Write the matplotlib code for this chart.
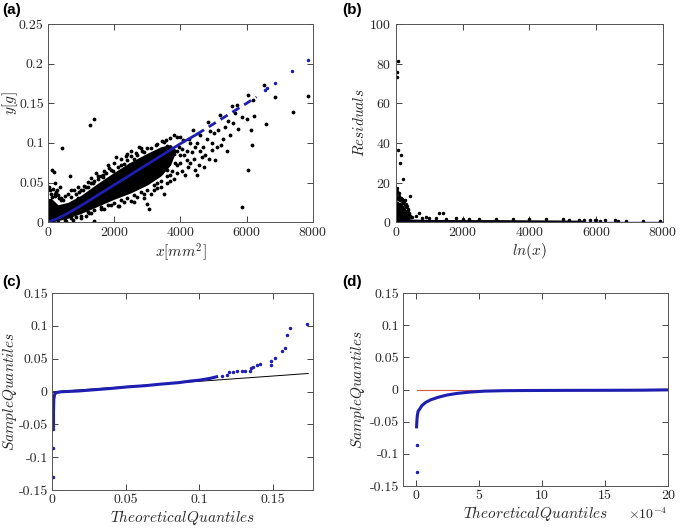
import numpy as np
import matplotlib
matplotlib.use('Agg')
import matplotlib.pyplot as plt

# valores
# (a) massa vs área
a_core_x = [0, 100, 300, 600, 1000, 1500, 2000, 2500, 3000, 3400, 3700, 3850]
a_core_hi = [0.030, 0.030, 0.022, 0.025, 0.034, 0.049, 0.063, 0.076, 0.087, 0.095, 0.098, 0.092]
a_core_lo = [0.000, 0.000, 0.002, 0.005, 0.011, 0.020, 0.029, 0.037, 0.047, 0.058, 0.072, 0.088]

a_pts_x = [20, 60, 100, 150, 130, 181, 250, 300, 350, 414, 50, 120, 200, 280, 220, 320, 400, 450, 500,
           665, 1270, 1400, 600, 800, 900, 1100, 1200, 1300, 1400, 1350, 700, 1000, 1150, 1450, 1500, 900, 1050, 1250, 750, 550,
           1700, 1800, 2000, 2200, 2400, 2500, 2800, 2600, 2900, 2980, 3050, 2700, 1900, 2300, 2050, 2450, 2750, 1600, 2150, 2900, 1650, 1850, 2350, 2650,
           3800, 3700, 3900, 3500, 3300, 3600, 3600, 3800, 3400, 3200, 3900, 3700, 3500, 3100, 3300, 3500, 3700, 3900, 3200, 3400, 3600, 3800, 3950, 3100, 3300,
           3990, 4090, 4390, 4240, 4440, 4640, 4690, 4840, 4940, 5040, 5150, 5200, 5240, 5350, 5500, 5550, 5700, 5750, 5850, 6000, 6050, 6130, 6150, 6200, 6230, 6540, 6600, 6860, 6030, 7390, 7860, 5870,
           4100, 4200, 4300, 4500, 4600, 4400, 4700, 4800, 4900, 4300, 4150, 4500, 4000, 4250, 4600, 4950, 5100, 5300, 5400, 4750, 4050, 4350, 4550, 4050, 4200, 4450, 4850, 5000, 5450, 5600, 5650,
           200, 400, 700, 850, 1000, 1150, 1300, 1500, 1600, 1750, 1900, 2100, 2300, 2500, 2600, 2700, 2850, 3000, 3100, 3250, 3450, 3550, 2200, 2400, 1400, 1200, 950, 1650, 1950,
           300, 500, 700, 850, 1000, 1200, 1400, 1600, 1800, 2000, 2200, 2400, 2600, 2800, 3000, 3200, 3400, 3600, 3750, 1300, 1700, 2100, 2500, 2900, 3300, 3700, 3900, 4000, 3850]
a_pts_y = [0.045, 0.040, 0.035, 0.042, 0.066, 0.063, 0.038, 0.034, 0.045, 0.093, 0.025, 0.032, 0.036, 0.040, 0.050, 0.030, 0.031, 0.028, 0.033,
           0.058, 0.122, 0.130, 0.036, 0.041, 0.031, 0.046, 0.051, 0.056, 0.002, 0.049, 0.040, 0.005, 0.008, 0.062, 0.058, 0.044, 0.040, 0.012, 0.003, 0.001,
           0.065, 0.072, 0.075, 0.080, 0.086, 0.090, 0.093, 0.025, 0.030, 0.023, 0.017, 0.032, 0.022, 0.026, 0.082, 0.072, 0.095, 0.016, 0.021, 0.088, 0.060, 0.068, 0.083, 0.087,
           0.110, 0.106, 0.108, 0.101, 0.098, 0.096, 0.050, 0.055, 0.045, 0.040, 0.072, 0.060, 0.036, 0.060, 0.070, 0.075, 0.080, 0.090, 0.085, 0.062, 0.066, 0.086, 0.095, 0.035, 0.050,
           0.108, 0.104, 0.116, 0.070, 0.066, 0.082, 0.095, 0.127, 0.091, 0.078, 0.116, 0.135, 0.097, 0.120, 0.110, 0.146, 0.148, 0.118, 0.133, 0.130, 0.160, 0.116, 0.097, 0.154, 0.134, 0.173, 0.124, 0.158, 0.066, 0.139, 0.159, 0.019,
           0.085, 0.090, 0.075, 0.100, 0.110, 0.080, 0.070, 0.105, 0.115, 0.100, 0.060, 0.060, 0.075, 0.105, 0.090, 0.100, 0.095, 0.105, 0.090, 0.085, 0.092, 0.088, 0.072, 0.065, 0.078, 0.095, 0.080, 0.112, 0.128, 0.125, 0.138,
           0.033, 0.028, 0.032, 0.036, 0.040, 0.044, 0.049, 0.055, 0.058, 0.062, 0.066, 0.070, 0.074, 0.083, 0.080, 0.085, 0.090, 0.094, 0.093, 0.097, 0.103, 0.104, 0.072, 0.078, 0.052, 0.045, 0.038, 0.057, 0.064,
           0.000, 0.003, 0.005, 0.007, 0.008, 0.013, 0.015, 0.019, 0.022, 0.024, 0.028, 0.030, 0.034, 0.038, 0.040, 0.047, 0.052, 0.058, 0.064, 0.011, 0.017, 0.021, 0.027, 0.035, 0.043, 0.052, 0.062, 0.085, 0.075]

fit_x = [0, 250, 500, 750, 1000, 1500, 2000, 2500, 3000, 3500, 4000, 4500]
fit_y = [0, 0.004, 0.009, 0.015, 0.021, 0.034, 0.047, 0.060, 0.073, 0.086, 0.099, 0.111]
fit_dash_x = [4500, 5000, 5500, 6000, 6300]
fit_dash_y = [0.111, 0.124, 0.137, 0.150, 0.158]
fit_tail_x = [6560, 6620, 6860, 7380, 7860]
fit_tail_y = [0.167, 0.169, 0.176, 0.191, 0.205]

# (b) resíduos
b_core_x = [0, 40, 100, 160, 220, 280, 340, 400, 430]
b_core_hi = [9, 11, 10, 9.5, 8.5, 7, 5, 3, 1.5]
b_band_x = [400, 1000, 2000, 3000, 4000, 5000, 5600]
b_band_hi = [1.6, 1.4, 1.3, 1.3, 1.2, 1.1, 1.0]
b_pts_x = [70, 40, 40, 70, 150, 140, 220, 440, 690, 1300, 1420, 30, 50, 20, 100, 60, 150, 200, 250, 300, 350, 380, 410, 10, 120, 180, 90, 270, 320,
           500, 800, 1000, 1500, 2000, 2500, 3000, 3500, 4000, 4500, 5000, 600, 900, 5650, 5800, 5950, 6100, 6250, 6550, 6650, 6900, 7400, 7900, 5500, 6000, 5200, 1200, 1800, 2200,
           20, 70, 130, 230, 290, 360, 400, 430, 460, 330]
b_pts_y = [81.5, 75.9, 73.1, 36.4, 33.8, 30, 22, 13.1, 4.7, 4.7, 4.7, 17, 15.5, 14, 13, 12.5, 12, 11.5, 10.5, 9, 8, 6, 4.5, 16, 11, 10.5, 14.5, 11, 7.5,
           2.5, 2, 2.2, 1.8, 1.7, 1.6, 1.7, 1.5, 1.6, 1.4, 1.5, 3, 2.8, 1.1, 0.9, 1.0, 0.8, 0.9, 1.0, 0.6, 0.8, 0.5, 0.7, 1.2, 1.2, 1.3, 2.0, 1.9, 1.6,
           12, 11.5, 9, 9.5, 8.5, 6.5, 4, 3, 2.5, 5.5]
b_fit_x = [0, 8000]
b_fit_y = [0.2, 0.2]

# (c) gráfico Q-Q
c_line_x = [0, 0.1739]
c_line_y = [-0.0005, 0.0275]
c_dense_x = [0.001, 0.001, 0.0012, 0.0018, 0.003, 0.0066, 0.0178, 0.0292, 0.0405, 0.0518, 0.0631, 0.0744, 0.0857, 0.0940, 0.1004, 0.1072, 0.1117]
c_dense_y = [-0.048, -0.030, -0.012, -0.004, -0.0015, -0.0003, 0.0008, 0.0028, 0.0048, 0.0072, 0.0089, 0.0114, 0.0135, 0.0160, 0.0175, 0.020, 0.0225]
c_sparse_x = [0.001, 0.001, 0.001, 0.001, 0.1151, 0.1185, 0.1203, 0.1226, 0.1253, 0.1287, 0.1309, 0.1343, 0.1348, 0.1366, 0.1389, 0.1411,
              0.1483, 0.1483, 0.1513, 0.1558, 0.158, 0.1592, 0.1615, 0.1732]
c_sparse_y = [-0.1297, -0.0865, -0.0564, -0.052, 0.0241, 0.0251, 0.0292, 0.0302, 0.0312, 0.0312, 0.0312, 0.0312, 0.0353, 0.0378, 0.0404, 0.0414,
              0.0404, 0.0464, 0.0515, 0.0617, 0.0658, 0.086, 0.0972, 0.1023]

# (d) gráfico Q-Q ampliado (x em unidades de 1e-4)
d_line_x = [0.08, 20]
d_line_y = [-0.001, -0.001]
d_dense_x = [0.08, 0.1, 0.12, 0.15, 0.2, 0.3, 0.5, 0.8, 1.2, 1.8, 2.5, 3.3, 4.3, 5.5, 7, 9, 12, 15, 18, 20]
d_dense_y = [-0.058, -0.050, -0.044, -0.039, -0.034, -0.031, -0.025, -0.020, -0.016, -0.012, -0.0085, -0.006, -0.004, -0.0025, -0.0018,
             -0.0015, -0.0013, -0.0012, -0.001, -0.0005]
d_sparse_x = [0.08, 0.08]
d_sparse_y = [-0.129, -0.086]

xticks_ab = [0, 2000, 4000, 6000, 8000]
qq_yticks = [-0.15, -0.1, -0.05, 0, 0.05, 0.1, 0.15]
qq_ylabels = ['-0.15', '-0.1', '-0.05', '0', '0.05', '0.1', '0.15']

plt.rcParams['font.family'] = 'cmr10'
plt.rcParams['mathtext.fontset'] = 'cm'
plt.rcParams['axes.unicode_minus'] = False
plt.rcParams['axes.formatter.use_mathtext'] = True

escuro = '#262626'
azul = '#1e1eb0'

fig = plt.figure(figsize=(6.8, 5.29), dpi=100)
ax_a = fig.add_axes([0.0706, 0.580, 0.3894, 0.3746])
ax_b = fig.add_axes([0.582, 0.580, 0.393, 0.3746])
ax_c = fig.add_axes([0.0765, 0.0737, 0.3835, 0.3723])
ax_d = fig.add_axes([0.5926, 0.0813, 0.3894, 0.3647])

for ax in [ax_a, ax_b, ax_c, ax_d]:
    ax.tick_params(direction='in', top=True, right=True, length=4, width=0.6,
                   labelsize=10, colors=escuro, pad=3)
    for s in ax.spines.values():
        s.set_color('#555555')
        s.set_linewidth(0.7)

# (a)
ax_a.fill_between(a_core_x, a_core_lo, a_core_hi, color='k', lw=0)
ax_a.plot(a_pts_x, a_pts_y, '.', color='k', ms=3.5)
ax_a.plot(fit_x, fit_y, '-', color=azul, lw=2)
ax_a.plot(fit_dash_x, fit_dash_y, '--', color=azul, lw=2, dashes=(3, 2))
ax_a.plot(fit_tail_x, fit_tail_y, '.', color=azul, ms=3)
ax_a.set_xlim(0, 8000)
ax_a.set_ylim(0, 0.25)
ax_a.set_xticks(xticks_ab)
ax_a.set_yticks([0, 0.05, 0.1, 0.15, 0.2, 0.25])
ax_a.set_yticklabels(['0', '0.05', '0.1', '0.15', '0.2', '0.25'])
ax_a.set_xlabel(r'$x[mm^2]$', fontsize=11, color=escuro, labelpad=1)
ax_a.set_ylabel(r'$y[g]$', fontsize=11, color=escuro)
ax_a.yaxis.set_label_coords(-0.105, 0.6)

# (b)
ax_b.fill_between(b_core_x, 0, b_core_hi, color='k', lw=0)
ax_b.fill_between(b_band_x, 0, b_band_hi, color='k', lw=0)
ax_b.plot(b_pts_x, b_pts_y, '.', color='k', ms=3)
ax_b.plot(b_fit_x, b_fit_y, '-', color=azul, lw=1)
ax_b.set_xlim(0, 8000)
ax_b.set_ylim(0, 100)
ax_b.set_xticks(xticks_ab)
ax_b.set_yticks([0, 20, 40, 60, 80, 100])
ax_b.set_xlabel(r'$ln(x)$', fontsize=11, color=escuro, labelpad=1)
ax_b.set_ylabel(r'$Residuals$', fontsize=11, color=escuro)
ax_b.yaxis.set_label_coords(-0.109, 0.5)

# (c)
ax_c.plot(c_line_x, c_line_y, '-', color='k', lw=0.7)
ax_c.plot(c_dense_x, c_dense_y, '-', color=azul, lw=2.2)
ax_c.plot(c_sparse_x, c_sparse_y, '.', color=azul, ms=3)
ax_c.set_xlim(0, 0.177)
ax_c.set_ylim(-0.15, 0.15)
ax_c.set_xticks([0, 0.05, 0.1, 0.15])
ax_c.set_xticklabels(['0', '0.05', '0.1', '0.15'])
ax_c.set_yticks(qq_yticks)
ax_c.set_yticklabels(qq_ylabels)
ax_c.set_xlabel(r'$TheoreticalQuantiles$', fontsize=11, color=escuro, labelpad=1)
ax_c.set_ylabel(r'$SampleQuantiles$', fontsize=11, color=escuro)
ax_c.yaxis.set_label_coords(-0.128, 0.5)

# (d)
escala = 1e-4
ax_d.plot(np.array(d_line_x) * escala, d_line_y, '-', color='#d95a3c', lw=0.8)
ax_d.plot(np.array(d_dense_x) * escala, d_dense_y, '-', color=azul, lw=2.2)
ax_d.plot(np.array(d_sparse_x) * escala, d_sparse_y, '.', color=azul, ms=3)
ax_d.set_xlim(-1e-4, 20e-4)
ax_d.set_ylim(-0.15, 0.15)
ax_d.set_xticks([0, 5e-4, 10e-4, 15e-4, 20e-4])
ax_d.set_xticklabels(['0', '5', '10', '15', '20'])
ax_d.set_yticks(qq_yticks)
ax_d.set_yticklabels(qq_ylabels)
ax_d.set_xlabel(r'$TheoreticalQuantiles$', fontsize=11, color=escuro, labelpad=1)
ax_d.set_ylabel(r'$SampleQuantiles$', fontsize=11, color=escuro)
ax_d.yaxis.set_label_coords(-0.136, 0.5)
ax_d.text(1.0, -0.105, r'$\times10^{-4}$', transform=ax_d.transAxes, ha='right', va='top',
          fontsize=10, color=escuro)

# rótulos dos painéis
for x, y, t in [(0.003, 0.995, '(a)'), (0.503, 0.995, '(b)'), (0.003, 0.48, '(c)'), (0.503, 0.48, '(d)')]:
    fig.text(x, y, t, ha='left', va='top', fontsize=11, fontweight='bold', family='Liberation Sans')

fig.savefig('out.png', dpi=100)
